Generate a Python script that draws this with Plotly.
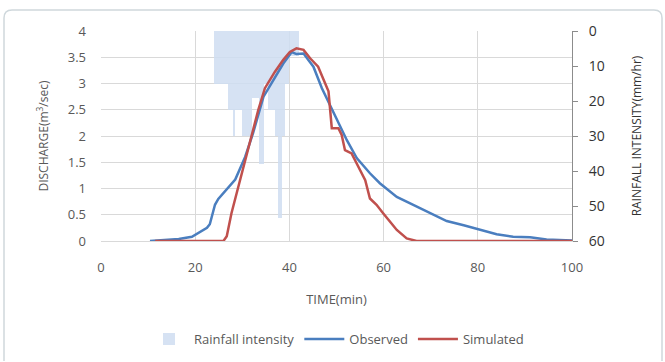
import plotly.graph_objects as go

# Rainfall intensity (mm/hr), 0.5-min bins (bin centre times)
rain_time = [24.25, 24.75, 25.25, 25.75, 26.25, 26.75, 27.25, 27.75, 28.25, 28.75,
             29.25, 29.75, 30.25, 30.75, 31.25, 31.75, 32.25, 32.75, 33.25, 33.75,
             34.25, 34.75, 35.25, 35.75, 36.25, 36.75, 37.25, 37.75, 38.25, 38.75,
             39.25, 39.75, 40.25, 40.75, 41.25, 41.75]
rain_value = [15, 15, 15, 15, 15, 15, 22.5, 22.5, 30, 22.5,
              22.5, 22.5, 30, 30, 30, 30, 19, 19, 19, 38,
              38, 15, 15, 22.5, 22.5, 22.5, 30, 53.5, 53.5, 30,
              15, 15, 7, 7, 7, 7]

# Observed discharge (m3/sec)
obs_time = [10.4, 13, 16.5, 19.3, 21.7, 22.5, 23.1, 23.7, 24.2, 24.9, 25.6, 27, 28.5,
            30.6, 32.3, 34.5, 36.6, 38.7, 40.5, 41.5, 43, 45.1, 46.9, 48.6, 50.4,
            52.2, 54.3, 57.1, 59.2, 62.8, 66.3, 69.9, 73.4, 77, 80.5, 84, 87.5,
            91.1, 94.6, 100]
obs_q = [0, 0.02, 0.04, 0.08, 0.2, 0.25, 0.32, 0.5, 0.69, 0.8, 0.87, 1.0, 1.17,
         1.6, 2.06, 2.75, 3.07, 3.38, 3.6, 3.56, 3.57, 3.32, 2.91, 2.59, 2.27,
         1.92, 1.58, 1.29, 1.1, 0.84, 0.69, 0.53, 0.38, 0.30, 0.22, 0.13, 0.08,
         0.07, 0.03, 0.01]

# Simulated discharge (m3/sec)
sim_time = [11.5, 20, 26, 26.7, 27.7, 28.8, 29.9, 31.6, 33.4, 34.8, 36.9, 38.7,
            40.1, 41.5, 43, 44.4, 46.1, 47.6, 48.3, 49, 50.4, 51.1, 51.8, 53.2,
            54.6, 56.1, 57.1, 58.5, 59.9, 61.4, 62.8, 64.9, 67, 100]
sim_q = [0, 0, 0, 0.09, 0.53, 0.91, 1.3, 1.92, 2.5, 2.91, 3.22, 3.45,
         3.6, 3.67, 3.64, 3.48, 3.32, 3.0, 2.85, 2.15, 2.15, 2.02, 1.73, 1.67,
         1.42, 1.16, 0.81, 0.69, 0.53, 0.37, 0.21, 0.05, 0, 0]

x_ticks = [0, 20, 40, 60, 80, 100]
q_ticks = [0, 0.5, 1, 1.5, 2, 2.5, 3, 3.5, 4]
r_ticks = [0, 10, 20, 30, 40, 50, 60]

FONT = "Open Sans, Noto Sans, sans-serif"
GRID = "#d9d9d9"

fig = go.Figure()
fig.add_trace(go.Bar(
    x=rain_time, y=rain_value, width=0.5, yaxis="y2",
    name="Rainfall intensity", marker=dict(color="#cfdef2", line=dict(width=0)),
    opacity=0.85,
))
fig.add_trace(go.Scatter(
    x=obs_time, y=obs_q, mode="lines", name="Observed", yaxis="y3",
    line=dict(color="#4a7ebf", width=2.5),
))
fig.add_trace(go.Scatter(
    x=sim_time, y=sim_q, mode="lines", name="Simulated", yaxis="y3",
    line=dict(color="#c0504d", width=2.5),
))
# invisible trace to keep primary discharge axis active
fig.add_trace(go.Scatter(x=[0], y=[0], mode="markers", marker=dict(opacity=0),
                         showlegend=False, hoverinfo="skip"))

# chart-area border (rounded)
r_x = 8 / 471
r_y = 8 / 210
x0, x1 = (4 - 101) / 471, (662 - 101) / 471
y0, y1 = (241 - 361) / 210, (241 - 10) / 210
path = (f"M {x0},{y0} L {x0},{y1 - r_y} Q {x0},{y1} {x0 + r_x},{y1} "
        f"L {x1 - r_x},{y1} Q {x1},{y1} {x1},{y1 - r_y} L {x1},{y0}")

fig.update_layout(
    width=665, height=362,
    margin=dict(l=101, r=93, t=31, b=121, autoexpand=False),
    paper_bgcolor="white", plot_bgcolor="white",
    font=dict(family=FONT, size=13, color="#595959"),
    bargap=0,
    showlegend=True,
    legend=dict(orientation="h", x=0.50, xanchor="center", y=-0.467, yanchor="middle",
                font=dict(size=13, color="#595959"), itemwidth=40,
                traceorder="normal", tracegroupgap=0),
    xaxis=dict(range=[0, 100], tickvals=x_ticks, showgrid=True, gridcolor=GRID,
               gridwidth=1, zeroline=False, showline=True, linecolor=GRID,
               ticks="", ticklabelstandoff=14, tickfont=dict(size=13, color="#595959"),
               automargin=False,
               title=dict(text="TIME(min)", font=dict(size=13, color="#595959"), standoff=20)),
    yaxis=dict(range=[0, 4], tickvals=q_ticks, showgrid=True, gridcolor=GRID,
               gridwidth=1, zeroline=False, showline=False, ticks="",
               ticklabelstandoff=14, automargin=False,
               tickfont=dict(size=13, color="#595959"),
               title=dict(text="DISCHARGE(m<sup>3</sup>/sec)",
                          font=dict(size=12, color="#595959"), standoff=16)),
    yaxis2=dict(range=[60, 0], tickvals=r_ticks, overlaying="y", side="right",
                showgrid=False, zeroline=False, showline=True, linecolor="#8c8c8c",
                ticks="outside", ticklen=5, tickcolor="#8c8c8c", ticklabelstandoff=8,
                tickfont=dict(size=14, color="#333333"), automargin=False,
                title=dict(text="RAINFALL INTENSITY(mm/hr)",
                           font=dict(size=12, color="#333333"), standoff=28)),
    yaxis3=dict(range=[0, 4], overlaying="y", visible=False),
    shapes=[dict(type="path", xref="paper", yref="paper", path=path,
                 line=dict(color="#cfd8dc", width=1.5), layer="below")],
)

fig.write_html("out.html")
